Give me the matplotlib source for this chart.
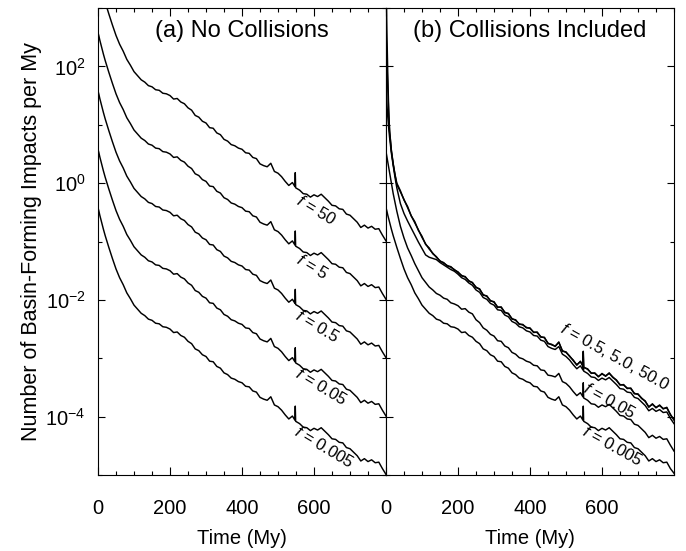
import numpy as np
import matplotlib
matplotlib.use("Agg")
import matplotlib.pyplot as plt
from matplotlib.ticker import FixedLocator, NullFormatter, MultipleLocator

plt.rcParams['font.family'] = ['Liberation Sans', 'DejaVu Sans']
plt.rcParams['mathtext.fontset'] = 'custom'
plt.rcParams['mathtext.rm'] = 'Liberation Sans'
plt.rcParams['mathtext.it'] = 'Liberation Sans:italic'

# ---------------- data (log10 of impacts per My) -------------
time_my = [0, 2.5, 5, 7.5, 10, 15, 20, 25, 30, 40, 50, 60, 70, 80, 90, 100, 110, 120,
           130, 140, 150, 160, 170, 180, 190, 200, 210, 220, 230, 240, 250, 260, 270,
           280, 290, 300, 310, 320, 330, 340, 350, 360, 370, 380, 390, 400, 410, 420,
           430, 440, 450, 460, 470, 480, 490, 500, 510, 520, 530, 540, 547, 548, 549,
           560, 570, 580, 590, 600, 610, 620, 630, 640, 650, 660, 670, 680, 690, 700,
           710, 720, 730, 740, 750, 760, 770, 780, 790, 800]

# (a) No collisions, f = 50 curve; the other f curves are the same run scaled by f
log_a_f50 = [3.58, 3.52, 3.45, 3.39, 3.33, 3.21, 3.10, 3.00, 2.90, 2.71, 2.53, 2.38,
             2.26, 2.12, 2.02, 1.91, 1.84, 1.77, 1.73, 1.67, 1.65, 1.60, 1.59, 1.54,
             1.53, 1.50, 1.44, 1.45, 1.39, 1.36, 1.29, 1.25, 1.16, 1.13, 1.06, 1.03,
             0.95, 0.94, 0.86, 0.83, 0.75, 0.72, 0.66, 0.64, 0.60, 0.58, 0.52, 0.51,
             0.44, 0.42, 0.33, 0.30, 0.28, 0.34, 0.20, 0.17, 0.11, 0.03, -0.04, 0.01,
             -0.06, 0.18, -0.08, -0.12, -0.18, -0.19, -0.24, -0.20, -0.23, -0.19,
             -0.25, -0.31, -0.38, -0.39, -0.44, -0.45, -0.53, -0.55, -0.61, -0.67,
             -0.76, -0.72, -0.77, -0.74, -0.79, -0.78, -0.89, -0.99]
f_values_a = [50, 5, 0.5, 0.05, 0.005]
labels_a = ["50", "5", "0.5", "0.05", "0.005"]

# (b) Collisions included
log_b_f50 = [3.58, 2.60, 1.85, 1.25, 0.88, 0.55, 0.33, 0.14, -0.02, -0.15, -0.28,
             -0.42, -0.56, -0.68, -0.80, -0.93, -1.04, -1.13, -1.20, -1.27, -1.33,
             -1.37, -1.41, -1.44, -1.48, -1.53, -1.58, -1.61, -1.67, -1.71, -1.78,
             -1.82, -1.91, -1.94, -2.01, -2.04, -2.12, -2.13, -2.21, -2.24, -2.32,
             -2.35, -2.41, -2.43, -2.47, -2.49, -2.55, -2.56, -2.63, -2.65, -2.74,
             -2.77, -2.79, -2.73, -2.87, -2.90, -2.96, -3.04, -3.11, -3.06, -3.13,
             -2.89, -3.15, -3.19, -3.25, -3.26, -3.31, -3.27, -3.30, -3.26, -3.32,
             -3.38, -3.45, -3.46, -3.51, -3.52, -3.60, -3.62, -3.68, -3.74, -3.83,
             -3.79, -3.84, -3.81, -3.86, -3.85, -3.96, -4.06]
log_b_f5 = [2.58, 2.10, 1.62, 1.20, 0.90, 0.56, 0.33, 0.15, 0.00, -0.13, -0.29,
            -0.40, -0.56, -0.66, -0.81, -0.91, -1.05, -1.11, -1.21, -1.26, -1.34,
            -1.36, -1.42, -1.43, -1.49, -1.52, -1.59, -1.60, -1.68, -1.70, -1.79,
            -1.81, -1.92, -1.93, -2.02, -2.03, -2.13, -2.12, -2.22, -2.23, -2.33,
            -2.34, -2.42, -2.42, -2.48, -2.48, -2.56, -2.55, -2.64, -2.64, -2.75,
            -2.76, -2.80, -2.72, -2.88, -2.89, -2.97, -3.03, -3.12, -3.05, -3.14,
            -2.88, -3.16, -3.18, -3.26, -3.25, -3.32, -3.26, -3.31, -3.25, -3.33,
            -3.37, -3.46, -3.45, -3.52, -3.51, -3.61, -3.61, -3.69, -3.73, -3.84,
            -3.78, -3.85, -3.80, -3.87, -3.84, -3.97, -4.05]
log_b_f05 = [1.58, 1.35, 1.13, 0.94, 0.78, 0.51, 0.30, 0.10, -0.08, -0.35, -0.52,
             -0.65, -0.77, -0.89, -1.01, -1.12, -1.23, -1.27, -1.29, -1.31, -1.36,
             -1.40, -1.44, -1.48, -1.51, -1.56, -1.62, -1.65, -1.71, -1.75, -1.83,
             -1.87, -1.96, -1.99, -2.06, -2.09, -2.17, -2.18, -2.26, -2.29, -2.37,
             -2.40, -2.46, -2.48, -2.53, -2.55, -2.61, -2.62, -2.69, -2.71, -2.80,
             -2.83, -2.85, -2.80, -2.93, -2.97, -3.03, -3.11, -3.18, -3.13, -3.20,
             -2.97, -3.22, -3.26, -3.32, -3.33, -3.38, -3.34, -3.37, -3.33, -3.39,
             -3.45, -3.52, -3.53, -3.58, -3.59, -3.67, -3.69, -3.75, -3.81, -3.90,
             -3.86, -3.91, -3.88, -3.93, -3.92, -4.03, -4.12]
log_b_f005 = [0.54, 0.45, 0.36, 0.27, 0.18, 0.00, -0.18, -0.33, -0.48, -0.74, -0.94,
              -1.11, -1.24, -1.38, -1.50, -1.62, -1.70, -1.78, -1.83, -1.89, -1.92,
              -1.97, -1.99, -2.05, -2.07, -2.10, -2.16, -2.15, -2.21, -2.24, -2.34,
              -2.39, -2.48, -2.52, -2.59, -2.62, -2.70, -2.71, -2.79, -2.82, -2.90,
              -2.93, -2.99, -3.01, -3.05, -3.07, -3.12, -3.13, -3.20, -3.21, -3.29,
              -3.30, -3.32, -3.26, -3.40, -3.43, -3.49, -3.57, -3.64, -3.59, -3.66,
              -3.42, -3.68, -3.72, -3.78, -3.79, -3.84, -3.80, -3.83, -3.79, -3.85,
              -3.91, -3.98, -3.99, -4.04, -4.05, -4.13, -4.15, -4.21, -4.27, -4.36,
              -4.32, -4.37, -4.34, -4.39, -4.38, -4.49, -4.59]
log_b_f0005 = [-0.42, -0.48, -0.55, -0.61, -0.67, -0.79, -0.90, -1.00, -1.10, -1.29,
               -1.47, -1.62, -1.74, -1.88, -1.98, -2.09, -2.16, -2.23, -2.27, -2.33,
               -2.35, -2.40, -2.41, -2.46, -2.47, -2.50, -2.56, -2.55, -2.61, -2.64,
               -2.71, -2.75, -2.84, -2.87, -2.94, -2.97, -3.05, -3.06, -3.14, -3.17,
               -3.25, -3.28, -3.34, -3.36, -3.40, -3.42, -3.48, -3.49, -3.56, -3.58,
               -3.67, -3.70, -3.72, -3.66, -3.80, -3.83, -3.89, -3.97, -4.04, -3.99,
               -4.06, -3.82, -4.08, -4.12, -4.18, -4.19, -4.24, -4.20, -4.23, -4.19,
               -4.25, -4.31, -4.38, -4.39, -4.44, -4.45, -4.53, -4.55, -4.61, -4.67,
               -4.76, -4.72, -4.77, -4.74, -4.79, -4.78, -4.89, -4.97]
labels_b = ["0.5, 5.0, 50.0", "0.05", "0.005"]

y_major = [1e-4, 1e-2, 1e0, 1e2]
y_major_labels = [r"$10^{-4}$", r"$10^{-2}$", r"$10^{0}$", r"$10^{2}$"]
y_minor = [1e-5, 1e-3, 1e-1, 1e1, 1e3]
x_major = [0, 200, 400, 600]
x_major_labels = ["0", "200", "400", "600"]

# ---------------- figure --------------------------------------------------------
W, H = 686, 551
fig = plt.figure(figsize=(W / 100, H / 100), dpi=100)
axL = fig.add_axes([98 / W, 1 - 475 / H, 288 / W, 467 / H])
axR = fig.add_axes([386 / W, 1 - 475 / H, 288 / W, 467 / H])

t = np.array(time_my)
base = np.array(log_a_f50)
lw = 1.05
for f in f_values_a:
    axL.plot(t, 10 ** (base + np.log10(f / 50.0)), color="black", lw=lw)

for arr in [log_b_f50, log_b_f5, log_b_f05, log_b_f005, log_b_f0005]:
    axR.plot(t, 10 ** np.array(arr), color="black", lw=lw)

for ax in (axL, axR):
    ax.set_yscale("log")
    ax.set_xlim(0, 800)
    ax.set_ylim(1e-5, 1e3)
    ax.xaxis.set_major_locator(FixedLocator(x_major))
    ax.xaxis.set_minor_locator(MultipleLocator(50))
    ax.set_xticklabels(x_major_labels)
    ax.yaxis.set_major_locator(FixedLocator(y_major))
    ax.yaxis.set_minor_locator(FixedLocator(y_minor))
    ax.yaxis.set_minor_formatter(NullFormatter())
    ax.tick_params(axis="x", which="major", direction="in", length=6, width=0.8,
                   top=True, bottom=True, labelsize=14.5, pad=17)
    ax.tick_params(axis="x", which="minor", direction="in", length=3, width=0.8,
                   top=True, bottom=True)
    ax.tick_params(axis="y", which="major", direction="in", length=5, width=0.8,
                   left=True, right=True, labelsize=14.5, pad=9)
    ax.tick_params(axis="y", which="minor", direction="in", length=3, width=0.8,
                   left=True, right=True)
    for s in ax.spines.values():
        s.set_linewidth(0.8)
    ax.set_xlabel("Time (My)", fontsize=14.5, labelpad=8)

axL.set_yticklabels(y_major_labels)
axR.yaxis.set_major_formatter(NullFormatter())
axL.set_ylabel("Number of Basin-Forming Impacts per My", fontsize=15.5, labelpad=2)

axL.text(0.5, 0.951, "(a) No Collisions", transform=axL.transAxes,
         ha="center", va="center", fontsize=17)
axR.text(0.5, 0.951, "(b) Collisions Included", transform=axR.transAxes,
         ha="center", va="center", fontsize=17)

# curve labels
pos_a = [(605, -0.46), (594, -1.44), (608, -2.46), (619, -3.49), (628, -4.53)]
for (x, ly), lab in zip(pos_a, labels_a):
    axL.text(x, 10 ** ly, r"$f$ = " + lab, rotation=-31, ha="center", va="center",
             rotation_mode="anchor", fontsize=12)
pos_b = [(634, -2.98), (621, -3.72), (630, -4.50)]
for (x, ly), lab in zip(pos_b, labels_b):
    axR.text(x, 10 ** ly, r"$f$ = " + lab, rotation=-29, ha="center", va="center",
             rotation_mode="anchor", fontsize=12)

fig.savefig("out.png", dpi=100)
